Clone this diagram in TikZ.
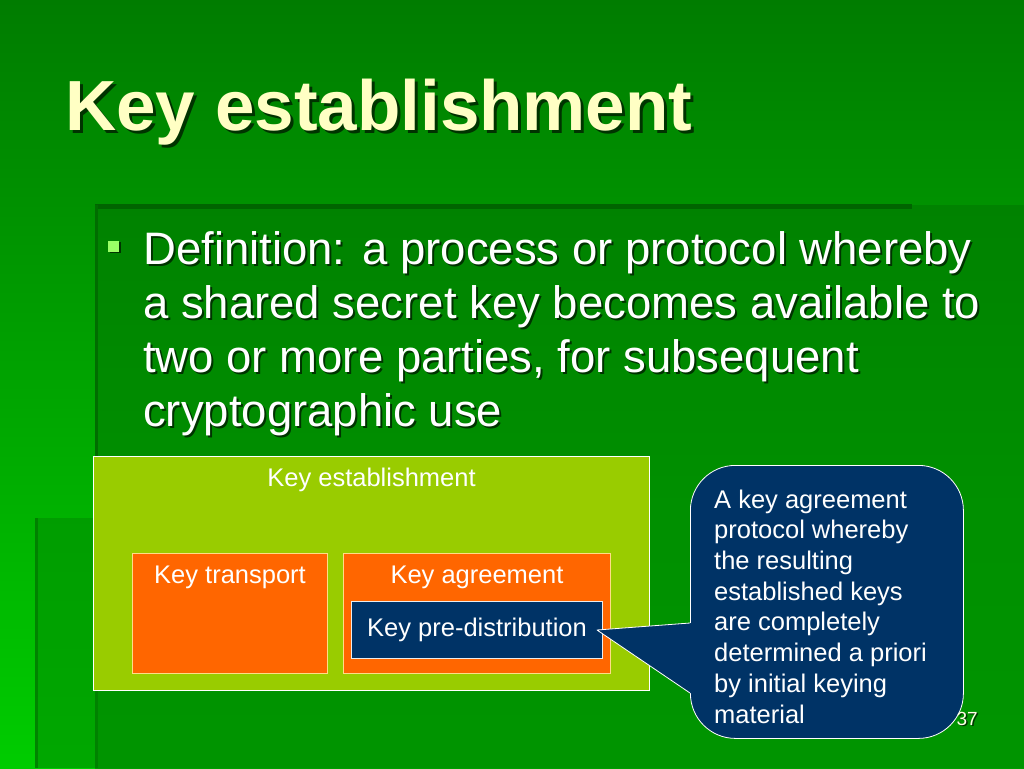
\documentclass[tikz,border=0pt]{standalone}
\usepackage{fontspec}
\setmainfont{Liberation Sans}
\usetikzlibrary{positioning, shadows}

\definecolor{bgtop}{HTML}{007C00}
\definecolor{bgbot}{HTML}{00CC00}
\definecolor{pantop}{HTML}{008200}
\definecolor{panbot}{HTML}{009C00}
\definecolor{panedge}{HTML}{006400}
\definecolor{lowpanel}{HTML}{009000}
\definecolor{titleyellow}{HTML}{FFFFC4}
\definecolor{shadowgreen}{HTML}{003300}
\definecolor{bulletgreen}{HTML}{99FF66}
\definecolor{estgreen}{HTML}{99CC00}
\definecolor{keyorange}{HTML}{FF6600}
\definecolor{orangeedge}{HTML}{FFDD88}
\definecolor{keynavy}{HTML}{003366}

% text with a dark drop shadow behind it
\newcommand\shd[2][2pt]{\leavevmode\rlap{\hspace{#1}\raisebox{-#1}{\color{shadowgreen}#2}}#2}

\begin{document}
\begin{tikzpicture}[x=1pt, y=1pt,
    slidetitle/.style={font=\fontsize{71}{71}\bfseries\selectfont, text=titleyellow, inner sep=0pt},
    bodytxt/.style={font=\fontsize{45.5}{54}\selectfont, text=white, align=left, inner sep=0pt},
    bulletsq/.style={fill=bulletgreen, minimum size=11pt, inner sep=0pt,
      drop shadow={shadow xshift=1.5pt, shadow yshift=-1.5pt, opacity=0.6, fill=black}},
    boxlbl/.style={font=\fontsize{25.5}{30}\selectfont, text=white, inner sep=0pt},
    estbox/.style={draw=white, line width=1pt, fill=estgreen, inner sep=0pt},
    orangebox/.style={draw=orangeedge, line width=1pt, fill=keyorange, inner sep=0pt},
    navybox/.style={draw=white!85!gray, line width=1pt, fill=keynavy, text=white,
      font=\fontsize{25.5}{30}\selectfont, inner sep=0pt},
    callout/.style={draw=white, line width=0.8pt, fill=keynavy, rounded corners=45pt, inner sep=0pt},
    notetxt/.style={font=\fontsize{25.5}{30.7}\selectfont, text=white, align=left, inner sep=0pt},
    pagenum/.style={font=\fontsize{19}{19}\selectfont, text=titleyellow!40!white, inner sep=0pt}]
  \useasboundingbox (0,0) rectangle (1024,-768);
  % slide background: gradient, inner panel, lower band
  \shade[top color=bgtop, bottom color=bgbot] (0,0) rectangle (1024,-768);
  \shade[top color=pantop, bottom color=panbot] (95,-205) rectangle (1024,-768);
  \fill[panedge] (95,-204) rectangle (912,-209);
  \fill[panedge!70!pantop] (95,-205) rectangle (97.5,-768);
  \fill[lowpanel, opacity=0.6] (35,-518) rectangle (1024,-768);
  \fill[panedge!60!lowpanel, opacity=0.7] (35,-518) rectangle (37.5,-768);

  \node[slidetitle, anchor=base west] (title) at (65,-130) {\shd[3pt]{Key establishment}};

  \node[bulletsq] (bullet) at (113.5,-246) {};
  % multi-line node: base is the last line
  \node[bodytxt, anchor=base west] (defn) at (143,-426)
    {\shd{Definition: a process or protocol whereby}\\
     \shd{a shared secret key becomes available to}\\
     \shd{two or more parties, for subsequent}\\
     \shd{cryptographic use}};

  % nested boxes
  \node[estbox, minimum width=556pt, minimum height=234pt, anchor=north west] (est) at (93,-456) {};
  \node[boxlbl, anchor=base] (estlbl) at ([yshift=-30pt]est.north) {Key establishment};
  \node[orangebox, minimum width=195pt, minimum height=120pt, anchor=north west] (trans) at (132,-553) {};
  \node[orangebox, minimum width=267pt, minimum height=120pt, right=15pt of trans] (agree) {};
  \node[boxlbl, anchor=base] (translbl) at ([yshift=-30pt]trans.north) {Key transport};
  \node[boxlbl, anchor=base] (agreelbl) at ([yshift=-30pt]agree.north) {Key agreement};
  \node[navybox, minimum width=251pt, minimum height=57pt, anchor=north] (pre) at ([yshift=-48pt]agree.north) {Key pre-distribution};

  % callout pointing at the pre-distribution box
  \node[callout, minimum width=273pt, minimum height=273pt, anchor=north west] (note) at (690,-465) {};
  \coordinate (ptA) at ([yshift=-158pt]note.north west);
  \coordinate (ptB) at ([yshift=-228pt]note.north west);
  \coordinate (tip) at ([xshift=-6pt]pre.east);
  \fill[keynavy] (ptA) -- (tip) -- (ptB) -- ([xshift=3pt]ptB) -- ([xshift=3pt]ptA) -- cycle;
  \draw[white, line width=0.8pt, line join=round] (ptA) -- (tip) -- (ptB);
  \node[notetxt, anchor=base west] (notetext) at ([shift={(24pt,-258pt)}]note.north west)
    {A key agreement\\protocol whereby\\the resulting\\established keys\\are completely\\determined a priori\\by initial keying\\material};

  \node[pagenum, anchor=base east] (pgnum) at (978,-725) {\shd[1.5pt]{37}};
\end{tikzpicture}
\end{document}
